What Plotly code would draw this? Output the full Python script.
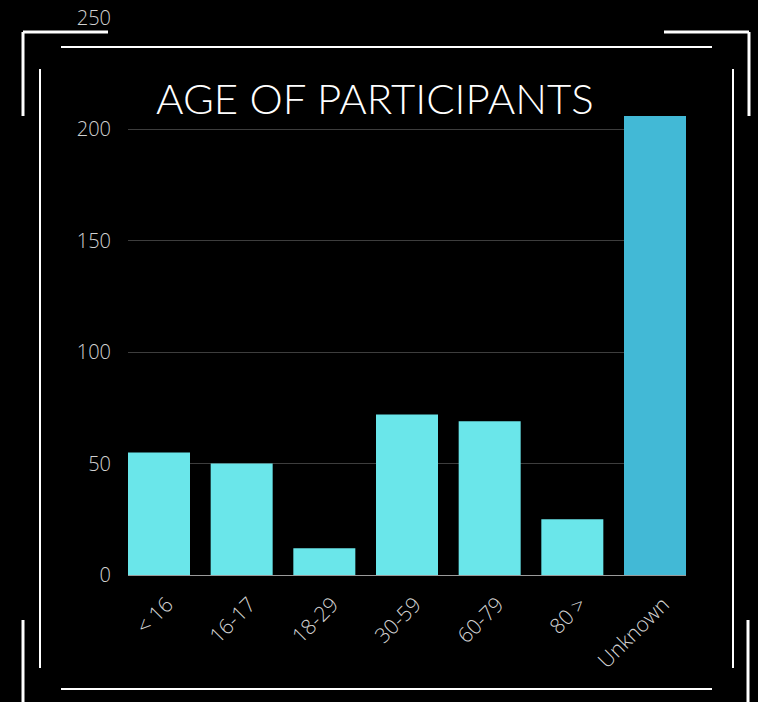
import plotly.graph_objects as go

# Participant counts by age group
age_groups = ["< 16", "16-17", "18-29", "30-59", "60-79", "80 >", "Unknown"]
participants = [55, 50, 12, 72, 69, 25, 206]
bar_colors = ["#6ae6ea"] * 6 + ["#42b9d6"]
y_ticks = [0, 50, 100, 150, 200, 250]

W, H = 758, 702
M_L, M_R, M_T, M_B = 128, 72, 18, 127
PW, PH = W - M_L - M_R, H - M_T - M_B


def px_x(px):
    return (px - M_L) / PW


def px_y(py):
    return (H - M_B - py) / PH


fig = go.Figure(
    go.Bar(
        x=age_groups,
        y=participants,
        marker=dict(color=bar_colors, line=dict(width=0)),
        hoverinfo="x+y",
    )
)

# Decorative frame: corner brackets plus inner border lines
frame = [
    # top-left bracket
    (23, 32, 108, 32, 3), (23, 32, 23, 116, 3),
    # top-right bracket
    (664, 32, 749, 32, 3), (749, 32, 749, 116, 3),
    # bottom corners
    (23, 620, 23, 702, 3), (748, 620, 748, 702, 3),
    # inner rules
    (61, 47, 712, 47, 2), (61, 689, 712, 689, 2),
    (40, 69, 40, 668, 2), (733, 69, 733, 668, 2),
]
shapes = [
    dict(type="line", xref="paper", yref="paper",
         x0=px_x(a), y0=px_y(b), x1=px_x(c), y1=px_y(d),
         line=dict(color="white", width=w), layer="above")
    for a, b, c, d, w in frame
]

fig.update_layout(
    width=W, height=H,
    margin=dict(l=M_L, r=M_R, t=M_T, b=M_B, autoexpand=False),
    paper_bgcolor="black", plot_bgcolor="black",
    bargap=0.25,
    showlegend=False,
    shapes=shapes,
    annotations=[dict(
        text="AGE OF PARTICIPANTS", xref="paper", yref="paper",
        x=px_x(375), y=px_y(98), xanchor="center", yanchor="middle",
        showarrow=False,
        font=dict(family="Lato", size=42, color="white", weight=300),
    )],
    xaxis=dict(
        range=[-0.375, 6.375],
        automargin=False,
        tickangle=-45,
        showgrid=False,
        showline=False,
        zeroline=False,
        ticks="",
        ticklabelstandoff=12,
        ticklabelshift=8,
        tickfont=dict(family="Open Sans", size=21, color="#d2d2d2", weight=300),
    ),
    yaxis=dict(
        range=[0, 250],
        automargin=False,
        tickvals=y_ticks,
        showgrid=True,
        gridcolor="#3d3d3d",
        gridwidth=1,
        zeroline=True,
        zerolinecolor="#9a9a9a",
        zerolinewidth=1,
        showline=False,
        ticks="",
        ticklabelstandoff=16,
        tickfont=dict(family="Open Sans", size=20, color="#d2d2d2", weight=300),
    ),
)

fig.write_html("out.html")
